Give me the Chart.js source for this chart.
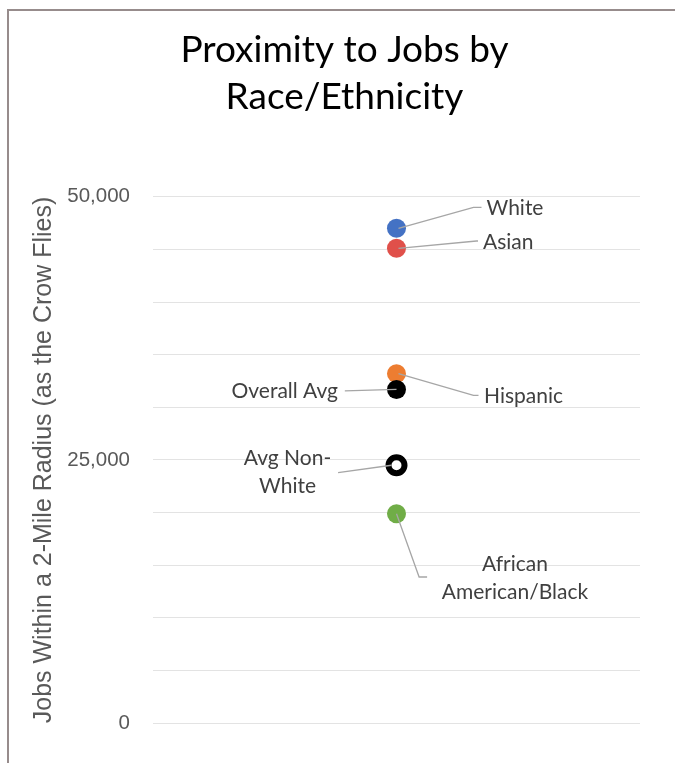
<!DOCTYPE html>
<html>
<head>
<meta charset="utf-8">
<script src="https://cdn.jsdelivr.net/npm/chart.js@4/dist/chart.umd.min.js"></script>
<style>
  html, body { margin: 0; padding: 0; background: #fff; }
  #wrap { position: relative; width: 675px; height: 763px; }
  #frame { position: absolute; left: 7px; top: 9px; right: 0; bottom: 0;
           border-top: 2px solid #978c8c; border-left: 2px solid #978c8c; pointer-events: none; }
  canvas { position: absolute; left: 0; top: 0; }
</style>
</head>
<body>
<div id="wrap">
  <canvas id="c" width="675" height="763"></canvas>
  <div id="frame"></div>
</div>
<script>
// ---- data ----
const titleLines = ['Proximity to Jobs by', 'Race/Ethnicity'];
const yAxisTitle = 'Jobs Within a 2-Mile Radius (as the Crow Flies)';
const seriesNames = ['White', 'Asian', 'Overall Avg', 'Hispanic', 'Avg Non-White', 'African American/Black'];
const jobValues = [47000, 45100, 31700, 33200, 24500, 19900];
const labelTexts = [['White'], ['Asian'], ['Overall Avg'], ['Hispanic'], ['Avg Non-', 'White'], ['African', 'American/Black']];
const yTickLabels = [0, 25000, 50000];

// ---- styles ----
const fills = ['#4472C4', '#E0504A', '#000000', '#ED7D31', '#FFFFFF', '#70AD47'];
const borders = ['#4472C4', '#E0504A', '#000000', '#ED7D31', '#000000', '#70AD47'];
const radii = [9.5, 9.5, 9.5, 9.5, 8, 9.5];
const borderWidths = [0, 0, 0, 0, 6, 0];
// label placement relative to point pixel: text anchor (dx, dy of first line), alignment, leader path
const labelStyle = [
  { dx: 90, dy: -20.5, align: 'left', path: [[2, 0], [77, -21], [85, -21]] },
  { dx: 86.5, dy: -6, align: 'left', path: [[2, 0], [80, -7.3], [81.5, -7.3]] },
  { dx: -58.5, dy: 2, align: 'right', path: [[0, 0], [-51.7, 1.4]] },
  { dx: 87.5, dy: 22.7, align: 'left', path: [[2, 0], [77, 21.7], [82, 21.7]] },
  { dx: -109, dy: -6.7, align: 'center', path: [[-5, 0], [-58.4, 7.3]] },
  { dx: 118.5, dy: 51, align: 'center', path: [[0, 0], [22.6, 63.3], [30.6, 63.3]] }
];
const labelFont = '21px Lato';
const labelColor = '#404040';
const lineGap = 28;

const datasets = seriesNames.map((n, i) => ({
  label: n,
  data: [{ x: 0, y: jobValues[i] }],
  backgroundColor: fills[i],
  borderColor: borders[i],
  borderWidth: borderWidths[i],
  pointRadius: radii[i],
  pointHoverRadius: radii[i]
}));

const titlePlugin = {
  id: 'titleDraw',
  afterDraw(chart) {
    const ctx = chart.ctx;
    ctx.save();
    ctx.font = '37px Lato';
    ctx.fillStyle = '#000';
    ctx.textAlign = 'center';
    ctx.textBaseline = 'middle';
    titleLines.forEach((t, i) => ctx.fillText(t, 344.5, 50 + i * 47));
    ctx.restore();
  }
};

const labelPlugin = {
  id: 'pointLabels',
  afterDatasetsDraw(chart) {
    const ctx = chart.ctx;
    ctx.save();
    chart.data.datasets.forEach((ds, i) => {
      const el = chart.getDatasetMeta(i).data[0];
      const px = el.x, py = el.y;
      const st = labelStyle[i];
      ctx.strokeStyle = '#a6a6a6';
      ctx.lineWidth = 1.3;
      ctx.beginPath();
      st.path.forEach((p, k) => {
        if (k === 0) ctx.moveTo(px + p[0], py + p[1]);
        else ctx.lineTo(px + p[0], py + p[1]);
      });
      ctx.stroke();
      ctx.font = labelFont;
      ctx.fillStyle = labelColor;
      ctx.textAlign = st.align;
      ctx.textBaseline = 'middle';
      labelTexts[i].forEach((t, k) => ctx.fillText(t, px + st.dx, py + st.dy + k * lineGap));
    });
    ctx.restore();
  }
};

new Chart(document.getElementById('c'), {
  type: 'scatter',
  data: { datasets },
  options: {
    responsive: false,
    animation: false,
    events: [],
    layout: { padding: { left: 29, right: 35, top: 196.7, bottom: 39.7 } },
    plugins: { legend: { display: false }, title: { display: false }, tooltip: { enabled: false } },
    scales: {
      x: { type: 'linear', min: -1, max: 1, display: false },
      y: {
        type: 'linear', min: 0, max: 50000,
        afterFit(scale) { scale.width = 124; },
        border: { display: false },
        grid: { color: '#e3e3e3', lineWidth: 1, drawTicks: false },
        ticks: {
          stepSize: 5000,
          padding: 23,
          color: '#595959',
          font: { family: 'Liberation Sans', size: 20.5 },
          callback: v => yTickLabels.includes(v) ? v.toLocaleString('en-US') : ''
        },
        title: {
          display: true,
          text: yAxisTitle,
          color: '#595959',
          font: { family: 'Liberation Sans', size: 25 },
          padding: { top: 0, bottom: 0 }
        }
      }
    }
  },
  plugins: [titlePlugin, labelPlugin]
});
</script>
</body>
</html>
